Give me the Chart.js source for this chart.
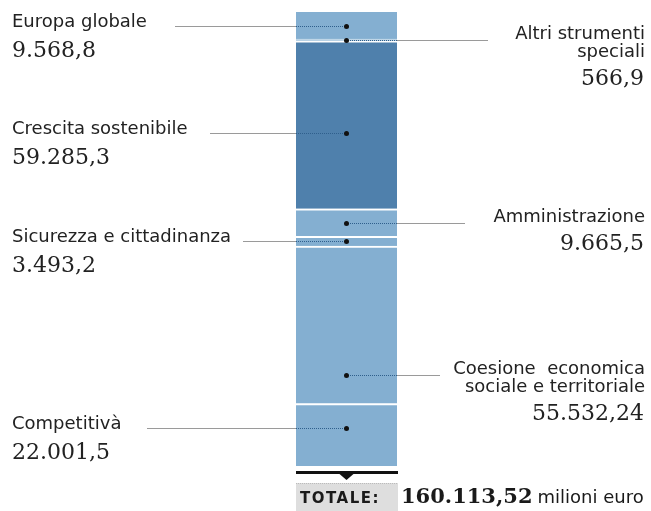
<!DOCTYPE html>
<html>
<head>
<meta charset="utf-8">
<script src="https://cdn.jsdelivr.net/npm/chart.js@4/dist/chart.umd.min.js"></script>
<style>
  html, body { margin: 0; padding: 0; background: #fff; }
  #wrap { width: 651px; height: 511px; }
</style>
</head>
<body>
<div id="wrap"><canvas id="chartBudget" width="651" height="511"></canvas></div>
<script>
// Data, from the bottom of the stack to the top
const categories = [
  "Competitivà",
  "Coesione  economica\nsociale e territoriale",
  "Sicurezza e cittadinanza",
  "Amministrazione",
  "Crescita sostenibile",
  "Altri strumenti\nspeciali",
  "Europa globale",
];
const values = [22001.5, 55532.24, 3493.2, 9665.5, 59285.3, 566.9, 9568.8];
const totalLabel = 160113.52;
const unitLabel = "milioni euro";

// Callout layout (which side, where the dot sits in the segment, where the leader ends)
const calloutSide = ["left", "right", "left", "right", "left", "right", "left"];
const calloutAnchor = [0.39, 0.82, 0.5, 0.5, 0.55, 0.5, 0.5];
const calloutReach = [147, 440, 243, 465, 210, 488, 175];

const LIGHT = "#84afd1";
const DARK = "#4f80ac";
const SANS = "'DejaVu Sans', 'Noto Sans', sans-serif";
const SERIF = "'DejaVu Serif', 'Liberation Serif', serif";

function fmt(v) {
  const parts = String(v).split(".");
  const int = parts[0].replace(/\B(?=(\d{3})+(?!\d))/g, ".");
  return parts[1] ? int + "," + parts[1] : int;
}

const total = values.reduce((a, b) => a + b, 0);

const datasets = values.map((v, i) => ({
  label: categories[i],
  data: [v],
  backgroundColor: categories[i].startsWith("Crescita") ? DARK : LIGHT,
  borderColor: "rgba(255,255,255,0.95)",
  borderWidth: { top: i === values.length - 1 ? 0 : 2, left: 0, right: 0, bottom: 0 },
  borderSkipped: false,
}));

const callouts = {
  id: "callouts",
  afterDatasetsDraw(chart) {
    const ctx = chart.ctx;
    const area = chart.chartArea;
    ctx.save();
    chart.data.datasets.forEach((ds, i) => {
      const el = chart.getDatasetMeta(i).data[0];
      const top = Math.min(el.y, el.base);
      const bottom = Math.max(el.y, el.base);
      const y = Math.round(top + calloutAnchor[i] * (bottom - top)) + 0.5;
      const cx = el.x;
      const left = calloutSide[i] === "left";
      const edge = left ? area.left : area.right;

      // leader outside the bar
      ctx.strokeStyle = "#9a9a9a";
      ctx.lineWidth = 1;
      ctx.setLineDash([]);
      ctx.beginPath();
      ctx.moveTo(calloutReach[i], y);
      ctx.lineTo(edge, y);
      ctx.stroke();
      // dotted leader inside the bar
      ctx.strokeStyle = "#2f5f8c";
      ctx.setLineDash([1, 1]);
      ctx.beginPath();
      ctx.moveTo(edge, y);
      ctx.lineTo(cx, y);
      ctx.stroke();
      ctx.setLineDash([]);
      ctx.fillStyle = "#111";
      ctx.beginPath();
      ctx.arc(cx, y, 2.5, 0, Math.PI * 2);
      ctx.fill();

      // text
      const lines = ds.label.split("\n");
      ctx.fillStyle = "#222";
      ctx.textBaseline = "alphabetic";
      if (left) {
        ctx.textAlign = "left";
        ctx.font = "18px " + SANS;
        ctx.fillText(lines[0], 12, y);
        ctx.font = "22px " + SERIF;
        ctx.fillText(fmt(ds.data[0]), 12, y + 30);
      } else {
        ctx.textAlign = "right";
        ctx.font = "18px " + SANS;
        let ty = y - 2;
        lines.forEach((ln, k) => {
          if (k > 0) ty += 18;
          ctx.fillText(ln, 645, ty);
        });
        ctx.font = "22px " + SERIF;
        ctx.fillText(fmt(ds.data[0]), 644, ty + 28);
      }
    });

    // base rule with pointer
    const mid = (area.left + area.right) / 2;
    ctx.fillStyle = "#111";
    ctx.fillRect(area.left, area.bottom + 5, area.right - area.left + 1, 3);
    ctx.beginPath();
    ctx.moveTo(mid - 7, area.bottom + 8);
    ctx.lineTo(mid + 7, area.bottom + 8);
    ctx.lineTo(mid, area.bottom + 14);
    ctx.closePath();
    ctx.fill();

    // total box
    const boxTop = area.bottom + 17;
    ctx.fillStyle = "#dedede";
    ctx.fillRect(area.left, boxTop, area.right - area.left + 1, chart.height - boxTop);
    ctx.strokeStyle = "#bbb";
    ctx.setLineDash([1, 1]);
    ctx.beginPath();
    ctx.moveTo(area.left, boxTop + 0.5);
    ctx.lineTo(area.right, boxTop + 0.5);
    ctx.stroke();
    ctx.setLineDash([]);

    const by = boxTop + 20;
    ctx.textAlign = "left";
    ctx.fillStyle = "#1a1a1a";
    ctx.font = "bold 15px " + SANS;
    ctx.letterSpacing = "1.5px";
    ctx.fillText("TOTALE:", area.left + 4, by);
    ctx.letterSpacing = "0px";
    ctx.font = "bold 21px " + SERIF;
    const totText = fmt(totalLabel);
    ctx.fillText(totText, area.right + 4, by);
    const w = ctx.measureText(totText).width;
    ctx.font = "18px " + SANS;
    ctx.fillText(unitLabel, area.right + 4 + w + 5, by);
    ctx.restore();
  },
};

const ctxBudget = document.getElementById("chartBudget").getContext("2d");

new Chart(ctxBudget, {
  type: "bar",
  data: { labels: [""], datasets: datasets },
  options: {
    responsive: false,
    animation: false,
    layout: { padding: { left: 296, right: 254, top: 12, bottom: 45 } },
    datasets: { bar: { categoryPercentage: 1, barPercentage: 1 } },
    scales: {
      x: { stacked: true, display: false },
      y: { stacked: true, display: false, min: 0, max: total },
    },
    plugins: {
      legend: { display: false },
      tooltip: { enabled: false },
    },
  },
  plugins: [callouts],
});
</script>
</body>
</html>
